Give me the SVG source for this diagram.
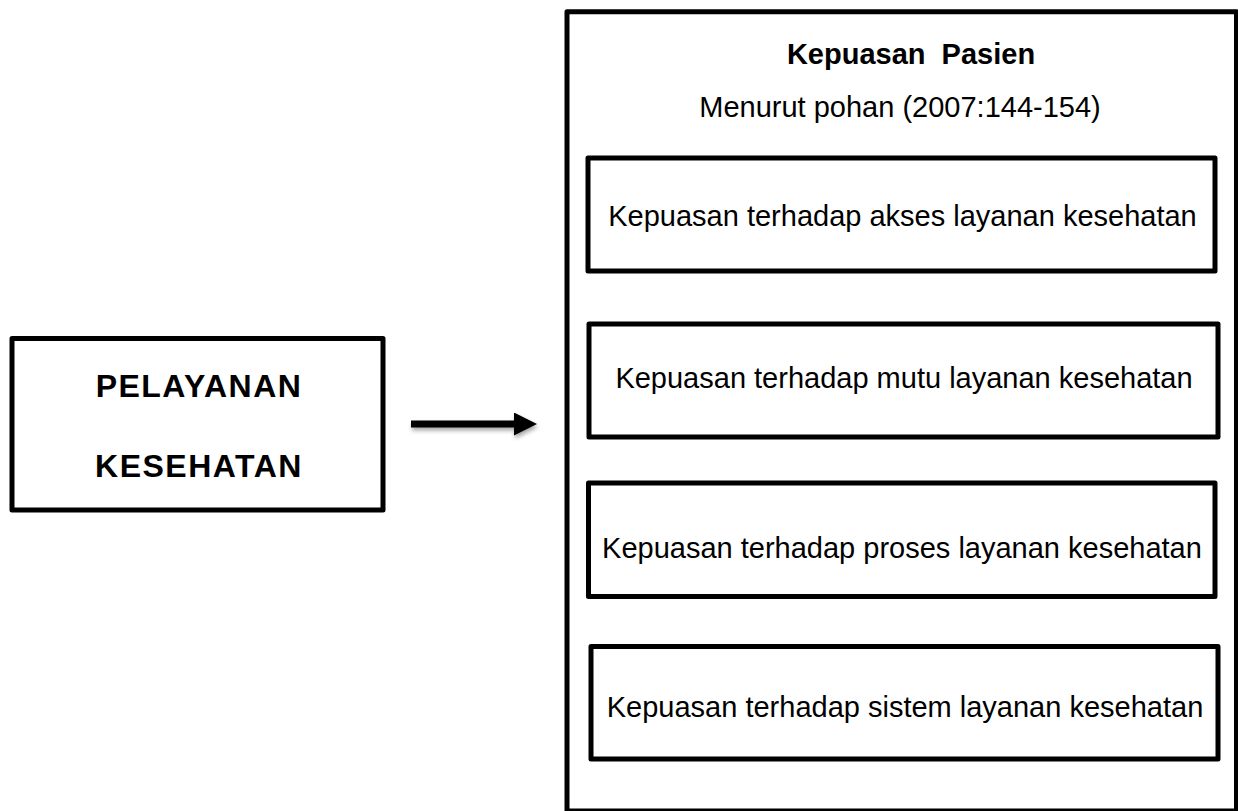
<svg xmlns="http://www.w3.org/2000/svg" width="1238" height="811" viewBox="0 0 1238 811">
  <style>
    .box { fill: #ffffff; stroke: #000000; stroke-width: 5; stroke-linejoin: round; }
    .frame { fill: none; stroke: #000000; stroke-width: 5; stroke-linejoin: round; }
    .lbl { font-family: "Liberation Sans", Arial, sans-serif; font-size: 29px; fill: #000000; text-anchor: middle; }
    .big { font-family: "Liberation Sans", Arial, sans-serif; font-size: 32px; font-weight: bold; letter-spacing: 1.5px; fill: #000000; text-anchor: middle; }
    .title { font-family: "Liberation Sans", Arial, sans-serif; font-size: 29px; font-weight: bold; fill: #000000; text-anchor: middle; }
  </style>
  <defs>
    <marker id="head" viewBox="0 0 23 23" markerWidth="23" markerHeight="23" refX="0" refY="11.5" markerUnits="userSpaceOnUse" orient="auto">
      <path d="M0,0 L23,11.5 L0,23 Z" fill="#000000"/>
    </marker>
    <filter id="shadow" filterUnits="userSpaceOnUse" x="395" y="400" width="160" height="50">
      <feDropShadow dx="1" dy="3" stdDeviation="2" flood-color="#000000" flood-opacity="0.35"/>
    </filter>
  </defs>
  <rect width="1238" height="811" fill="#ffffff"/>

  <g id="node-pelayanan">
    <rect class="box" x="12" y="338.5" width="371" height="171.5"/>
    <text class="big" x="199" y="397">PELAYANAN</text>
    <text class="big" x="199" y="477">KESEHATAN</text>
  </g>

  <g id="node-kepuasan-pasien">
    <rect class="frame" x="567" y="11.7" width="669.5" height="799.3"/>
    <text class="title" x="911" y="64" xml:space="preserve">Kepuasan  Pasien</text>
    <text class="lbl" x="900" y="117">Menurut pohan (2007:144-154)</text>
  </g>

  <g id="node-akses">
    <rect class="box" x="588" y="158" width="627" height="113"/>
    <text class="lbl" x="902.5" y="226">Kepuasan terhadap akses layanan kesehatan</text>
  </g>

  <g id="node-mutu">
    <rect class="box" x="589" y="324" width="629" height="113"/>
    <text class="lbl" x="904" y="388">Kepuasan terhadap mutu layanan kesehatan</text>
  </g>

  <g id="node-proses">
    <rect class="box" x="588.5" y="483" width="626.5" height="113.5"/>
    <text class="lbl" x="902" y="558">Kepuasan terhadap proses layanan kesehatan</text>
  </g>

  <g id="node-sistem">
    <rect class="box" x="591" y="646.5" width="627" height="112.5"/>
    <text class="lbl" x="905" y="717">Kepuasan terhadap sistem layanan kesehatan</text>
  </g>

  <g id="connectors">
    <line x1="411" y1="424" x2="514" y2="424" stroke="#000000" stroke-width="7" marker-end="url(#head)" filter="url(#shadow)"/>
  </g>
</svg>
